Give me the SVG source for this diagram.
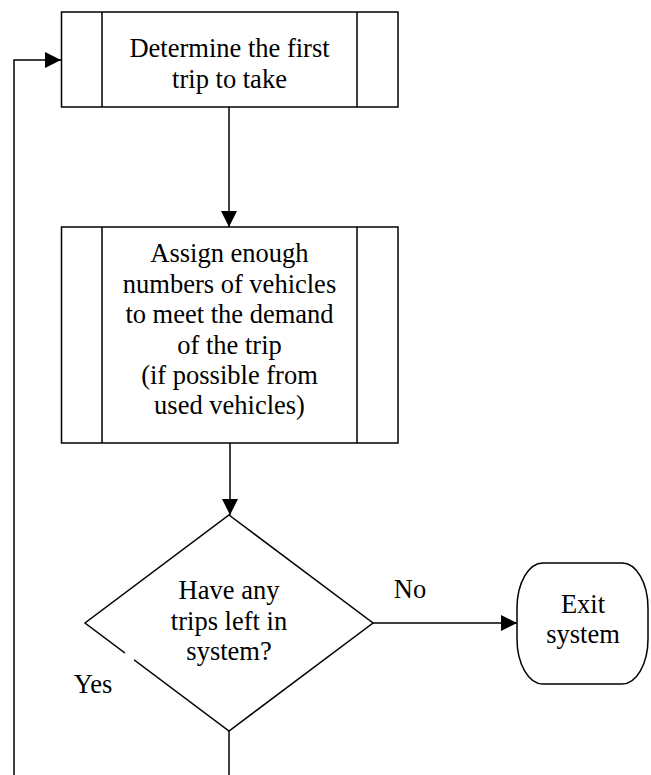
<svg xmlns="http://www.w3.org/2000/svg" width="651" height="775" viewBox="0 0 651 775">
<style>
.s{fill:#fff;stroke:#000;stroke-width:1.5}
.l{fill:none;stroke:#000;stroke-width:1.5}
.t{font-family:'Liberation Serif','Times New Roman',Times,'DejaVu Serif',serif;font-size:26.5px;fill:#000;text-anchor:middle}
</style>
<defs>
<marker id="ah" markerWidth="16" markerHeight="16" viewBox="0 0 16 16" refX="16" refY="8" orient="auto" markerUnits="userSpaceOnUse">
<path d="M0,0 L16,8 L0,16 Z" fill="#000"/>
</marker>
</defs>
<rect width="651" height="775" fill="#fff"/>
<g id="connectors">
<path class="l" d="M229,107 V227" marker-end="url(#ah)"/>
<path class="l" d="M230,443 V515" marker-end="url(#ah)"/>
<path class="l" d="M373,623 H517" marker-end="url(#ah)"/>
<path class="l" d="M229,731 V775"/>
<path class="l" d="M14,775 V60 H61" marker-end="url(#ah)"/>
</g>
<g id="determine">
<rect class="s" x="61.5" y="12" width="336.5" height="95"/>
<path class="l" d="M102,12 V107 M357,12 V107"/>
<text class="t" x="229.5" y="57">Determine the first</text>
<text class="t" x="229.5" y="88">trip to take</text>
</g>
<g id="assign">
<rect class="s" x="61.5" y="227" width="336.5" height="216"/>
<path class="l" d="M102,227 V443 M357,227 V443"/>
<text class="t" x="229.5" y="262">Assign enough</text>
<text class="t" x="229.5" y="292.5">numbers of vehicles</text>
<text class="t" x="229.5" y="323">to meet the demand</text>
<text class="t" x="229.5" y="353.5">of the trip</text>
<text class="t" x="229.5" y="384">(if possible from</text>
<text class="t" x="229.5" y="414">used vehicles)</text>
</g>
<g id="decision">
<polygon class="s" points="229,515 373,623 229,731 85,623"/>
<path d="M125,653 L134,660" stroke="#fff" stroke-width="3"/>
<text class="t" x="229" y="599">Have any</text>
<text class="t" x="229" y="630">trips left in</text>
<text class="t" x="229" y="660">system?</text>
</g>
<g id="exit">
<path class="s" d="M543,563 H622 A26,45 0 0 1 648,608 V639 A26,45 0 0 1 622,684 H543 A26,45 0 0 1 517,639 V608 A26,45 0 0 1 543,563 Z"/>
<text class="t" x="583" y="613">Exit</text>
<text class="t" x="583" y="643">system</text>
</g>
<g id="labels">
<text class="t" x="410" y="598">No</text>
<text class="t" x="93" y="693">Yes</text>
</g>
</svg>
